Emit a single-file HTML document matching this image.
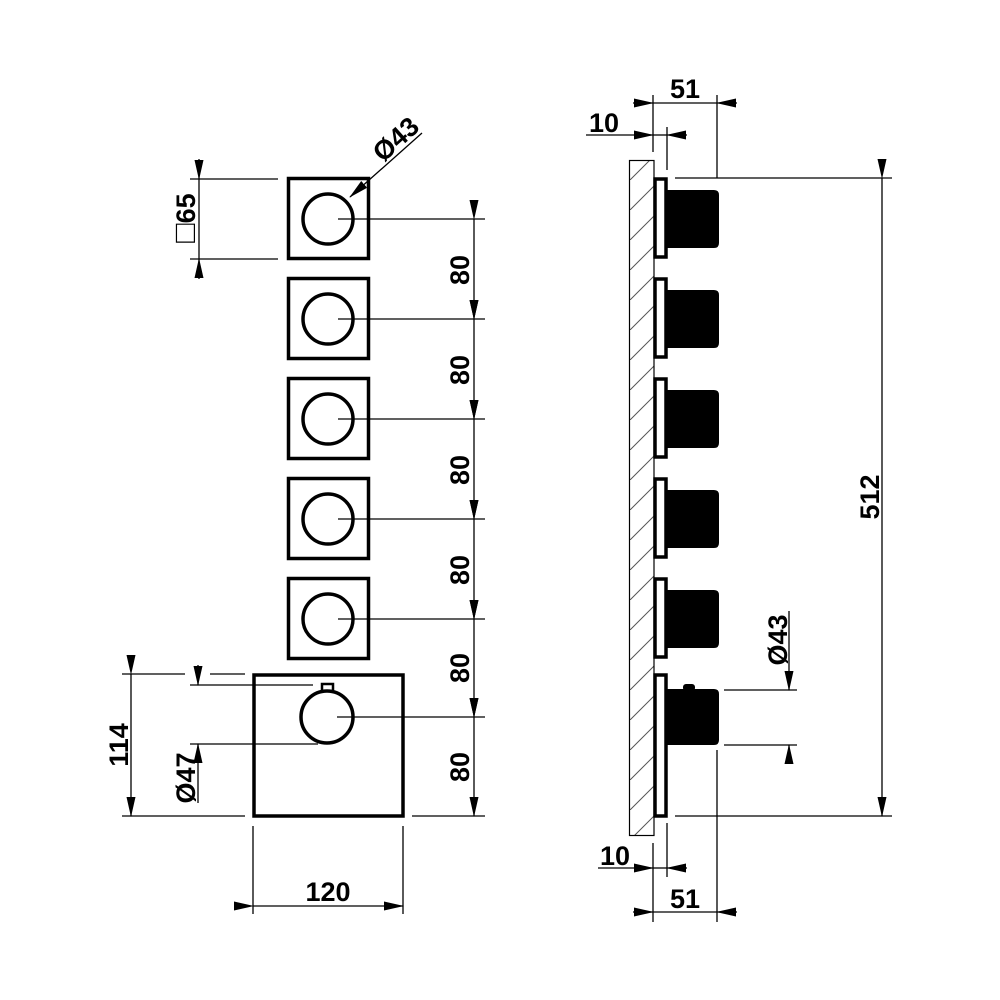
<!DOCTYPE html>
<html><head><style>
html,body{margin:0;padding:0;background:#fff}
svg{display:block}
text{font-family:"Liberation Sans",Arial,sans-serif;font-size:27px;font-weight:bold;fill:#000}
</style></head><body>
<svg width="1000" height="1000" viewBox="0 0 1000 1000" xmlns="http://www.w3.org/2000/svg">
<defs>
<marker id="a" markerWidth="20" markerHeight="10" refX="19" refY="5" orient="auto" markerUnits="userSpaceOnUse"><path d="M0,0.5 L20,5 L0,9.5 Z" fill="#000"/></marker>
<pattern id="h" width="30" height="30" patternUnits="userSpaceOnUse"><path d="M-5,35 L35,-5" stroke="#555" stroke-width="1"/></pattern>
</defs>
<g stroke="#000" fill="none">
<g stroke-width="3.5">
<rect x="288.5" y="178.5" width="80" height="80"/>
<rect x="288.5" y="278.5" width="80" height="80"/>
<rect x="288.5" y="378.5" width="80" height="80"/>
<rect x="288.5" y="478.5" width="80" height="80"/>
<rect x="288.5" y="578.5" width="80" height="80"/>
<rect x="254" y="675" width="149" height="141"/>
<circle cx="328" cy="219" r="25"/>
<circle cx="328" cy="319" r="25"/>
<circle cx="328" cy="419" r="25"/>
<circle cx="328" cy="519" r="25"/>
<circle cx="328" cy="619" r="25"/>
<circle cx="327" cy="717" r="26"/>
</g>
<rect x="322" y="684" width="11" height="7" stroke-width="2.5"/>
<g stroke-width="1.3">
<line x1="338" y1="219" x2="485" y2="219"/>
<line x1="338" y1="319" x2="485" y2="319"/>
<line x1="338" y1="419" x2="485" y2="419"/>
<line x1="338" y1="519" x2="485" y2="519"/>
<line x1="338" y1="619" x2="485" y2="619"/>
<line x1="337" y1="717" x2="485" y2="717"/>
<line x1="412" y1="816" x2="485" y2="816"/>
<line x1="474" y1="219" x2="474" y2="319" marker-start="url(#a)" marker-end="url(#a)"/>
<line x1="474" y1="319" x2="474" y2="419" marker-start="url(#a)" marker-end="url(#a)"/>
<line x1="474" y1="419" x2="474" y2="519" marker-start="url(#a)" marker-end="url(#a)"/>
<line x1="474" y1="519" x2="474" y2="619" marker-start="url(#a)" marker-end="url(#a)"/>
<line x1="474" y1="619" x2="474" y2="717" marker-start="url(#a)" marker-end="url(#a)"/>
<line x1="474" y1="717" x2="474" y2="816" marker-start="url(#a)" marker-end="url(#a)"/>
<line x1="190" y1="179" x2="278" y2="179"/>
<line x1="190" y1="259" x2="278" y2="259"/>
<line x1="199" y1="159" x2="199" y2="179" marker-end="url(#a)"/>
<line x1="199" y1="279" x2="199" y2="259" marker-end="url(#a)"/>
<line x1="199" y1="179" x2="199" y2="259"/>
<line x1="422" y1="133" x2="350" y2="197" marker-end="url(#a)"/>
<line x1="122" y1="674" x2="185" y2="674"/>
<line x1="210" y1="674" x2="245" y2="674"/>
<line x1="122" y1="816" x2="245" y2="816"/>
<line x1="131" y1="674" x2="131" y2="816" marker-start="url(#a)" marker-end="url(#a)"/>
<line x1="190" y1="685" x2="313" y2="685"/>
<line x1="190" y1="744" x2="318" y2="744"/>
<line x1="198" y1="665" x2="198" y2="685" marker-end="url(#a)"/>
<line x1="198" y1="803" x2="198" y2="744" marker-end="url(#a)"/>
<line x1="253" y1="826" x2="253" y2="914"/>
<line x1="403" y1="826" x2="403" y2="914"/>
<line x1="253" y1="906" x2="403" y2="906" marker-start="url(#a)" marker-end="url(#a)"/>
</g>
<rect x="629.5" y="160.5" width="24.5" height="675" stroke-width="1.2" fill="url(#h)"/>
<g fill="#000" stroke="none">
<path d="M667,190 H714 Q719,190 719,195 V243 Q719,248 714,248 H667 Z"/>
<path d="M667,290 H714 Q719,290 719,295 V343 Q719,348 714,348 H667 Z"/>
<path d="M667,390 H714 Q719,390 719,395 V443 Q719,448 714,448 H667 Z"/>
<path d="M667,490 H714 Q719,490 719,495 V543 Q719,548 714,548 H667 Z"/>
<path d="M667,590 H714 Q719,590 719,595 V643 Q719,648 714,648 H667 Z"/>
<path d="M667,689 H714 Q719,689 719,694 V740 Q719,745 714,745 H667 Z"/>
<rect x="683" y="684" width="12" height="7" rx="3"/>
</g>
<g stroke-width="3.5" fill="#fff">
<rect x="655" y="179" width="11" height="78"/>
<rect x="655" y="279" width="11" height="78"/>
<rect x="655" y="379" width="11" height="78"/>
<rect x="655" y="479" width="11" height="78"/>
<rect x="655" y="579" width="11" height="78"/>
<rect x="655" y="675" width="11" height="141"/>
</g>
<g stroke-width="1.3">
<line x1="675" y1="178" x2="892" y2="178"/>
<line x1="675" y1="816" x2="892" y2="816"/>
<line x1="882" y1="178" x2="882" y2="816" marker-start="url(#a)" marker-end="url(#a)"/>
<line x1="653" y1="95" x2="653" y2="152"/>
<line x1="717" y1="95" x2="717" y2="178"/>
<line x1="667" y1="127" x2="667" y2="170"/>
<line x1="633" y1="103" x2="653" y2="103" marker-end="url(#a)"/>
<line x1="737" y1="103" x2="717" y2="103" marker-end="url(#a)"/>
<line x1="653" y1="103" x2="717" y2="103"/>
<line x1="586" y1="135" x2="653" y2="135" marker-end="url(#a)"/>
<line x1="687" y1="135" x2="667" y2="135" marker-end="url(#a)"/>
<line x1="653" y1="135" x2="667" y2="135"/>
<line x1="653" y1="843" x2="653" y2="922"/>
<line x1="717" y1="750" x2="717" y2="922"/>
<line x1="667" y1="823" x2="667" y2="877"/>
<line x1="633" y1="912" x2="653" y2="912" marker-end="url(#a)"/>
<line x1="737" y1="912" x2="717" y2="912" marker-end="url(#a)"/>
<line x1="653" y1="912" x2="717" y2="912"/>
<line x1="598" y1="868" x2="653" y2="868" marker-end="url(#a)"/>
<line x1="687" y1="868" x2="667" y2="868" marker-end="url(#a)"/>
<line x1="653" y1="868" x2="667" y2="868"/>
<line x1="724" y1="690" x2="797" y2="690"/>
<line x1="724" y1="745" x2="797" y2="745"/>
<line x1="789" y1="611" x2="789" y2="690" marker-end="url(#a)"/>
<line x1="789" y1="764" x2="789" y2="745" marker-end="url(#a)"/>
</g>
</g>
<g text-anchor="middle">
<text transform="translate(469,270) rotate(-90)">80</text>
<text transform="translate(469,370) rotate(-90)">80</text>
<text transform="translate(469,470) rotate(-90)">80</text>
<text transform="translate(469,570) rotate(-90)">80</text>
<text transform="translate(469,668) rotate(-90)">80</text>
<text transform="translate(469,767) rotate(-90)">80</text>
<text transform="translate(195,218) rotate(-90)"><tspan font-size="32" font-weight="normal">□</tspan>65</text>
<text transform="translate(402,146) rotate(-42)">Ø43</text>
<text transform="translate(128,745) rotate(-90)">114</text>
<text transform="translate(195,778) rotate(-90)">Ø47</text>
<text x="328" y="901">120</text>
<text transform="translate(879,497) rotate(-90)">512</text>
<text x="685" y="98">51</text>
<text x="604" y="132">10</text>
<text x="615" y="865">10</text>
<text x="685" y="908">51</text>
<text transform="translate(787,640) rotate(-90)">Ø43</text>
</g>
</svg>
</body></html>
